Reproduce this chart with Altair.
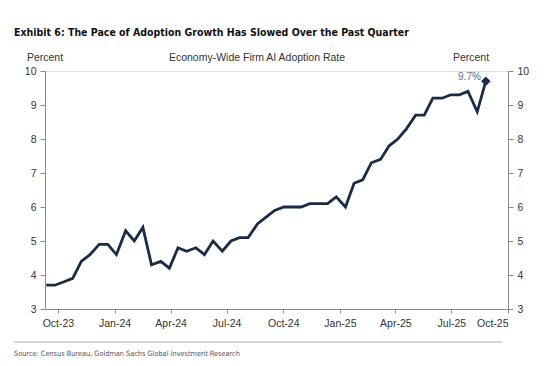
import altair as alt
import pandas as pd

dates = [
    "2023-09-12", "2023-09-26", "2023-10-11", "2023-10-25", "2023-11-08", "2023-11-22",
    "2023-12-07", "2023-12-21", "2024-01-04", "2024-01-19", "2024-02-02", "2024-02-16",
    "2024-03-01", "2024-03-16", "2024-03-30", "2024-04-13", "2024-04-27", "2024-05-12",
    "2024-05-26", "2024-06-09", "2024-06-24", "2024-07-08", "2024-07-22", "2024-08-05",
    "2024-08-20", "2024-09-03", "2024-09-17", "2024-10-02", "2024-10-16", "2024-10-30",
    "2024-11-13", "2024-11-28", "2024-12-12", "2024-12-26", "2025-01-10", "2025-01-24",
    "2025-02-07", "2025-02-21", "2025-03-08", "2025-03-22", "2025-04-05", "2025-04-19",
    "2025-05-04", "2025-05-18", "2025-06-01", "2025-06-16", "2025-06-30", "2025-07-14",
    "2025-07-28", "2025-08-12", "2025-08-26",
]
adoption = [
    3.7, 3.7, 3.8, 3.9, 4.4, 4.6, 4.9, 4.9, 4.6, 5.3, 5.0, 5.4,
    4.3, 4.4, 4.2, 4.8, 4.7, 4.8, 4.6, 5.0, 4.7, 5.0, 5.1, 5.1,
    5.5, 5.7, 5.9, 6.0, 6.0, 6.0, 6.1, 6.1, 6.1, 6.3, 6.0, 6.7,
    6.8, 7.3, 7.4, 7.8, 8.0, 8.3, 8.7, 8.7, 9.2, 9.2, 9.3, 9.3,
    9.4, 8.8, 9.7,
]
tick_dates = [(2023, 10), (2024, 1), (2024, 4), (2024, 7), (2024, 10),
              (2025, 1), (2025, 4), (2025, 7), (2025, 10)]
y_ticks = [3, 4, 5, 6, 7, 8, 9, 10]

title_text = "Exhibit 6: The Pace of Adoption Growth Has Slowed Over the Past Quarter"
subtitle_text = "Economy-Wide Firm AI Adoption Rate"
unit_text = "Percent"
source_text = "Source: Census Bureau, Goldman Sachs Global Investment Research"
last_label = "9.7%"

df = pd.DataFrame({"date": dates, "value": adoption})
last = df.tail(1).assign(label=last_label)

FONT = "Liberation Sans, Arial, sans-serif"
NARROW = "DejaVu Sans Condensed, Liberation Sans Narrow, sans-serif"
NAVY = "#1b2b47"
AXIS = "#8a8a8a"
W, H = 463, 238

x_scale = alt.Scale(
    type="utc",
    domain=[alt.DateTime(year=2023, month=9, date=10, utc=True),
            alt.DateTime(year=2025, month=10, date=1, utc=True)],
)
x_axis = alt.Axis(
    values=[alt.DateTime(year=y, month=m, date=1, utc=True) for y, m in tick_dates],
    labelExpr="utcFormat(datum.value, '%b-%y')",
    title=None, grid=False, domainColor=AXIS, tickColor=AXIS, tickSize=4,
    labelPadding=5, labelFont=FONT, labelFontSize=10.5, labelColor="#333333",
)
y_scale = alt.Scale(domain=[3, 10], nice=False, zero=False)

def y_axis(orient, pad):
    return alt.Axis(
        orient=orient, values=y_ticks, title=None, grid=False,
        domainColor=AXIS, tickColor=AXIS, tickSize=5, labelPadding=pad,
        labelFont=FONT, labelFontSize=10.5, labelColor="#333333",
    )

base = alt.Chart(df)

line = base.mark_line(color=NAVY, strokeWidth=2.8, strokeJoin="miter").encode(
    x=alt.X("date:T", scale=x_scale, axis=x_axis),
    y=alt.Y("value:Q", scale=y_scale, axis=y_axis("left", 4)),
)

point = alt.Chart(last).mark_point(
    shape="diamond", filled=True, color=NAVY, size=90, opacity=1
).encode(
    x=alt.X("date:T", scale=x_scale),
    y=alt.Y("value:Q", scale=y_scale, axis=y_axis("right", 4)),
)

label = alt.Chart(last).mark_text(
    align="right", baseline="bottom", dx=-5, dy=1, font=FONT, fontSize=10,
    color="#55708f",
).encode(
    x=alt.X("date:T", scale=x_scale),
    y=alt.Y("value:Q", scale=y_scale, axis=None),
    text="label:N",
)

def text_layer(txt, x, y, align="left", font=FONT, size=11, weight="normal", color="#333333"):
    return alt.Chart(pd.DataFrame({"t": [txt]})).mark_text(
        align=align, baseline="alphabetic", font=font, fontSize=size,
        fontWeight=weight, color=color,
    ).encode(x=alt.value(x), y=alt.value(y), text="t:N")

title = text_layer(title_text, -31, -35, font=NARROW, size=10.5, weight="bold", color="#111111")
left_unit = text_layer(unit_text, 0, -10, align="center", size=10.5)
right_unit = text_layer(unit_text, 426, -10, align="center", size=10.5)
subtitle = text_layer(subtitle_text, 212, -10, align="center", size=10.5)
source = text_layer(source_text, -31, 285, font=NARROW, size=7.3, color="#555555")

sep = alt.Chart(pd.DataFrame({"a": [0]})).mark_rule(color="#b0b0b0", strokeWidth=1).encode(
    x=alt.value(-31), x2=alt.value(457), y=alt.value(271)
)

chart = alt.layer(
    line, point, label, title, left_unit, right_unit, subtitle, source, sep
).resolve_scale(y="independent").properties(
    width=W, height=H,
    autosize=alt.AutoSizeParams(type="none"),
    padding={"left": 37, "top": 63, "right": 44, "bottom": 48},
).configure_view(stroke=None).configure(background="white")

chart.save("out.html", embed_options={"renderer": "svg", "actions": False})
